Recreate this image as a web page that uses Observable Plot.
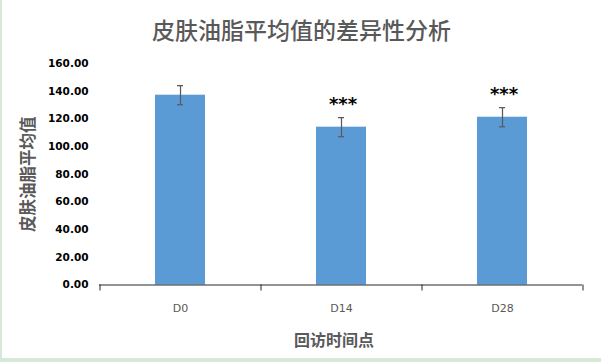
<!DOCTYPE html>
<html>
<head>
<meta charset="utf-8">
<script src="https://cdn.jsdelivr.net/npm/d3@7"></script>
<script src="https://cdn.jsdelivr.net/npm/@observablehq/plot@0.6"></script>
<style>
  html, body { margin: 0; padding: 0; background: #ffffff; }
  #wrap { position: relative; width: 601px; height: 362px; overflow: hidden; }
  #edgeL { position: absolute; left: 0; top: 0; width: 2px; height: 362px; background: #d6e8d6; }
  #edgeB { position: absolute; left: 0; top: 358px; width: 601px; height: 4px; background: #d6e8d6; }
  #chart { position: absolute; left: 0; top: 0; }
</style>
</head>
<body>
<div id="wrap">
  <div id="chart"></div>
  <div id="edgeL"></div>
  <div id="edgeB"></div>
</div>
<script>
const categories = ["D0", "D14", "D28"];
const means = [137.1, 114.0, 121.2];
const errors = [6.9, 6.9, 6.9];
const significance = ["", "***", "***"];
const yTicks = [0, 20, 40, 60, 80, 100, 120, 140, 160];
const title = "皮肤油脂平均值的差异性分析";
const xTitle = "回访时间点";
const yTitle = "皮肤油脂平均值";

const data = categories.map((c, i) => ({
  cat: c, mean: means[i], err: errors[i], sig: significance[i]
}));

const left = 99, right = 582;
const step = (right - left) / categories.length;

const chart = Plot.plot({
  width: 601,
  height: 362,
  marginLeft: left,
  marginRight: 601 - right,
  marginTop: 63,
  marginBottom: 77.5,
  style: { background: "transparent", overflow: "visible" },
  x: { type: "band", domain: categories, paddingInner: 0.69, paddingOuter: 0.345, axis: null },
  y: { domain: [0, 160], axis: null },
  marks: [
    Plot.barY(data, { x: "cat", y: "mean", fill: "#5b9bd5" }),
    Plot.ruleX(data, { x: "cat", y1: d => d.mean - d.err, y2: d => d.mean + d.err, stroke: "#595959", strokeWidth: 1.25 }),
    Plot.tickY(data, { x: "cat", y: d => d.mean - d.err, stroke: "#595959", strokeWidth: 1.25, insetLeft: 22, insetRight: 22 }),
    Plot.tickY(data, { x: "cat", y: d => d.mean + d.err, stroke: "#595959", strokeWidth: 1.25, insetLeft: 22, insetRight: 22 }),
    Plot.text(data, {
      x: "cat", y: d => d.mean + d.err, text: "sig",
      lineAnchor: "bottom", dy: -8, dx: 1.5,
      fontFamily: "DejaVu Sans", fontWeight: "bold", fontSize: 18,
      fill: "#000000", style: "letter-spacing:3px"
    }),
    // x axis line
    Plot.ruleY([0], { stroke: "#262626", strokeWidth: 1 }),
    // x axis ticks at band boundaries
    Plot.ruleX(categories, { x: d => d, y1: 0, y2: 0, dx: -step / 2, insetBottom: -6, stroke: "#262626" }),
    Plot.ruleX([categories[categories.length - 1]], { x: d => d, y1: 0, y2: 0, dx: step / 2, insetBottom: -6, stroke: "#262626" }),
    // x tick labels
    Plot.text(categories, {
      x: d => d, y: 0, text: d => d, dy: 23,
      fontFamily: "DejaVu Sans", fontSize: 11, fill: "#595959"
    }),
    // y tick labels
    Plot.text(yTicks, {
      y: d => d, text: d => d.toFixed(2),
      frameAnchor: "left", textAnchor: "end", dx: -11,
      fontFamily: "DejaVu Sans", fontWeight: "bold", fontSize: 10.5, fill: "#000000"
    }),
    // title
    Plot.text([title], {
      frameAnchor: "top", text: d => d, dx: -39.5, dy: -41,
      fontFamily: "Noto Sans CJK SC", fontSize: 23, fill: "#595959", fontWeight: 500
    }),
    // x axis title
    Plot.text([xTitle], {
      frameAnchor: "bottom", text: d => d, dx: -7, dy: 61,
      fontFamily: "Noto Sans CJK SC", fontSize: 16, fontWeight: "bold", fill: "#595959"
    }),
    // y axis title
    Plot.text([yTitle], {
      frameAnchor: "left", textAnchor: "middle", text: d => d, dx: -71, rotate: -90,
      fontFamily: "Noto Sans CJK SC", fontSize: 16.5, fontWeight: "bold", fill: "#595959"
    })
  ]
});

document.getElementById("chart").appendChild(chart);
</script>
</body>
</html>
